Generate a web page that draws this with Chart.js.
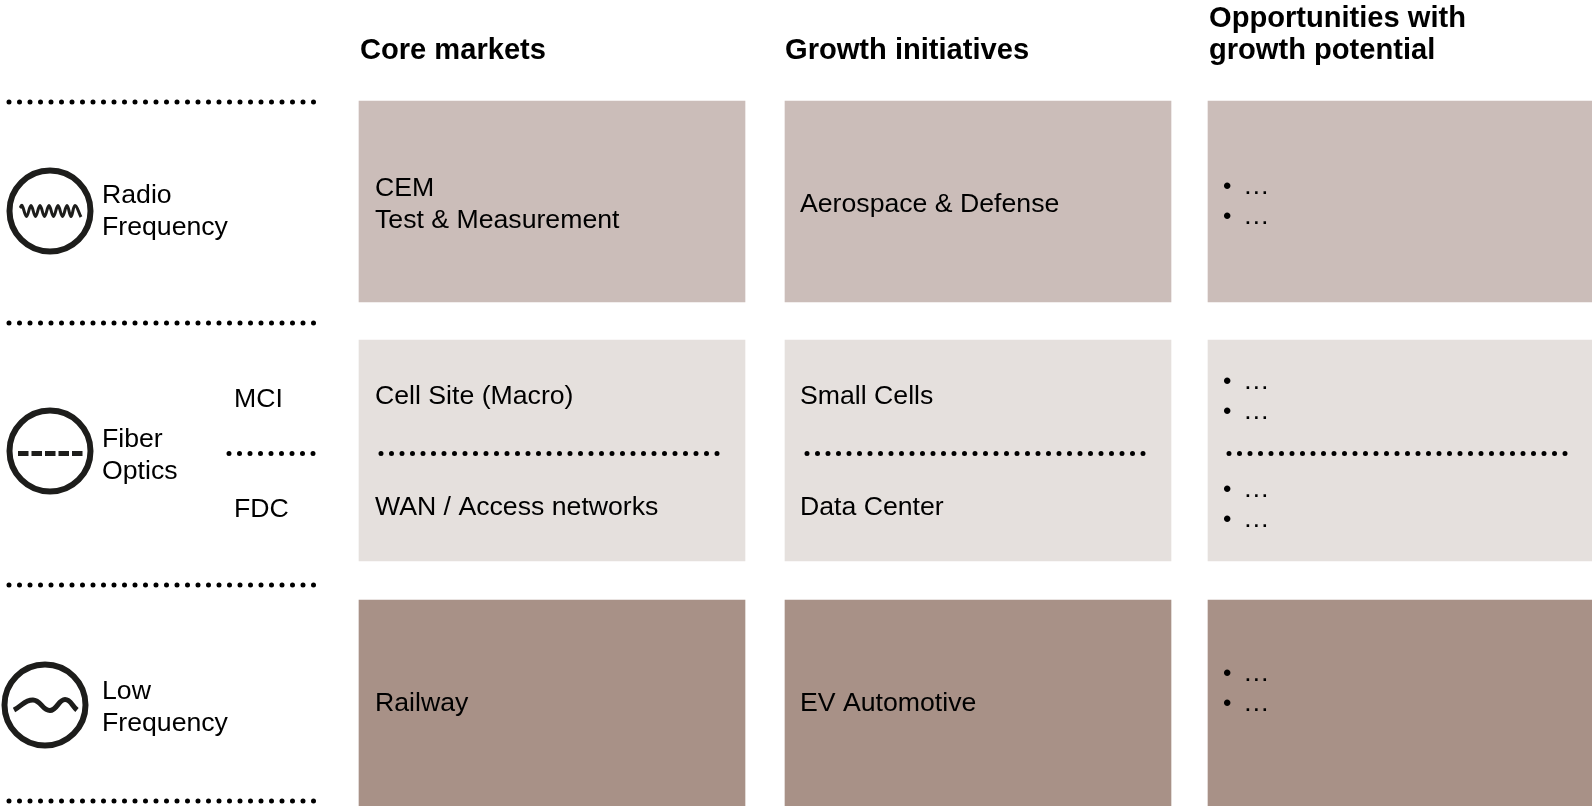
<!DOCTYPE html>
<html>
<head>
<meta charset="utf-8">
<style>
  html, body { margin: 0; padding: 0; background: #fff; overflow: hidden; }
  #wrap { width: 1592px; height: 806px; }
</style>
<script src="https://cdn.jsdelivr.net/npm/chart.js@4"></script>
</head>
<body>
<div id="wrap"><canvas id="myChart" width="1592" height="806"></canvas></div>
<script>
// --- data ---
const columnTitles = [["Core markets"], ["Growth initiatives"], ["Opportunities with", "growth potential"]];
const rowNames = [["Radio", "Frequency"], ["Fiber", "Optics"], ["Low", "Frequency"]];
const subRows = ["MCI", "FDC"];
const columnSpans = [[359, 745], [785, 1171], [1208, 1592]];
const rowSpans = [[101, 302], [340, 561], [600, 806]];
const rowColors = ["#cbbdb9", "#e5e0dd", "#a89187"];
const rowDividers = [102, 323, 585, 801];
const innerDividerY = 453.5;
const innerDividers = [[229, 316], [381, 723], [807, 1149], [1229, 1568]];
const leftDivider = [9, 316];
const iconCenters = [[50, 211], [50, 451], [45, 705]];
const fiberGlyph = [[18, 453.5], [83, 453.5]];
const lowGlyph = [[14, 710], [33, 700], [50, 710.5], [65, 699.5], [77, 710]];
const radioGlyph = [[20, 208], [22, 205.5], [26.5, 216.5], [31, 205.5], [35.5, 216.5], [40, 205.5], [44.5, 216.5], [49, 205.5], [53.5, 216.5], [58, 205.5], [62.5, 216.5], [67, 205.5], [71, 216.5], [75, 205.5], [81, 217]];

// cell texts, [line, x, y]
const cellTexts = [
  ["CEM", 375, 196], ["Test & Measurement", 375, 228],
  ["Aerospace & Defense", 800, 212],
  ["Cell Site (Macro)", 375, 404], ["WAN / Access networks", 375, 515],
  ["Small Cells", 800, 404], ["Data Center", 800, 515],
  ["Railway", 375, 711], ["EV Automotive", 800, 711]
];
const bulletRows = [194, 224, 389, 419, 497, 527, 681, 711];

// --- chart ---
const black = "#000000";
const iconColor = "#1d1d1b";
const datasets = [];

// boxes are floating bars on pixel-like linear axes
rowSpans.forEach((rs, r) => {
  columnSpans.forEach((cs) => {
    datasets.push({
      type: "bar",
      data: [{ x: (cs[0] + cs[1]) / 2, y: rs }],
      backgroundColor: rowColors[r],
      barThickness: cs[1] - cs[0],
      grouped: false,
      order: 5
    });
  });
});

function dots(x0, x1, y) {
  return {
    type: "line",
    data: [{ x: x0, y: y }, { x: x1, y: y }],
    borderColor: black,
    borderWidth: 5,
    borderDash: [0, 10.5],
    borderCapStyle: "round",
    pointRadius: 0,
    order: 1
  };
}
rowDividers.forEach((y) => datasets.push(dots(leftDivider[0], leftDivider[1], y)));
innerDividers.forEach((d) => datasets.push(dots(d[0], d[1], innerDividerY)));

// icons
datasets.push({
  type: "scatter",
  data: iconCenters.map((c) => ({ x: c[0], y: c[1] })),
  pointStyle: "circle",
  pointRadius: 40.5,
  pointBorderWidth: 6,
  pointBorderColor: iconColor,
  pointBackgroundColor: "rgba(0,0,0,0)",
  clip: false,
  order: 2
});
datasets.push({
  type: "line",
  data: fiberGlyph.map((p) => ({ x: p[0], y: p[1] })),
  borderColor: iconColor, borderWidth: 5, borderDash: [10.5, 3],
  pointRadius: 0, order: 2
});
datasets.push({
  type: "line",
  data: lowGlyph.map((p) => ({ x: p[0], y: p[1] })),
  borderColor: iconColor, borderWidth: 5, tension: 0.45,
  pointRadius: 0, order: 2
});
datasets.push({
  type: "line",
  data: radioGlyph.map((p) => ({ x: p[0], y: p[1] })),
  borderColor: iconColor, borderWidth: 3, tension: 0.4, borderJoinStyle: "round",
  pointRadius: 0, order: 2
});

// text is drawn with the scales so it stays with the marks
const textPlugin = {
  id: "slideText",
  afterDraw(chart) {
    const { ctx, scales: { x, y } } = chart;
    const put = (s, px, py, font) => {
      ctx.font = font;
      ctx.fillText(s, x.getPixelForValue(px), y.getPixelForValue(py));
    };
    const body = '26.67px "Liberation Sans"';
    const bold = 'bold 29.1px "Liberation Sans"';
    ctx.save();
    ctx.fillStyle = black;
    ctx.textBaseline = "alphabetic";
    put(columnTitles[0][0], 360, 59, bold);
    put(columnTitles[1][0], 785, 59, bold);
    put(columnTitles[2][0], 1209, 27, bold);
    put(columnTitles[2][1], 1209, 59, bold);
    put(rowNames[0][0], 102, 203, body);
    put(rowNames[0][1], 102, 235, body);
    put(rowNames[1][0], 102, 447, body);
    put(rowNames[1][1], 102, 479, body);
    put(rowNames[2][0], 102, 699, body);
    put(rowNames[2][1], 102, 731, body);
    put(subRows[0], 234, 407, body);
    put(subRows[1], 234, 517, body);
    cellTexts.forEach((t) => put(t[0], t[1], t[2], body));
    bulletRows.forEach((py) => {
      put("•", 1223, py, '24px "Liberation Sans"');
      put("…", 1243, py, body);
    });
    ctx.restore();
  }
};

new Chart(document.getElementById("myChart").getContext("2d"), {
  data: { datasets },
  plugins: [textPlugin],
  options: {
    responsive: false,
    animation: false,
    layout: { padding: 0, autoPadding: false },
    plugins: { legend: { display: false }, tooltip: { enabled: false }, title: { display: false } },
    scales: {
      x: { type: "linear", min: 0, max: 1592, display: false, offset: false },
      y: { type: "linear", min: 0, max: 806, reverse: true, display: false, offset: false }
    }
  }
});
</script>
</body>
</html>
